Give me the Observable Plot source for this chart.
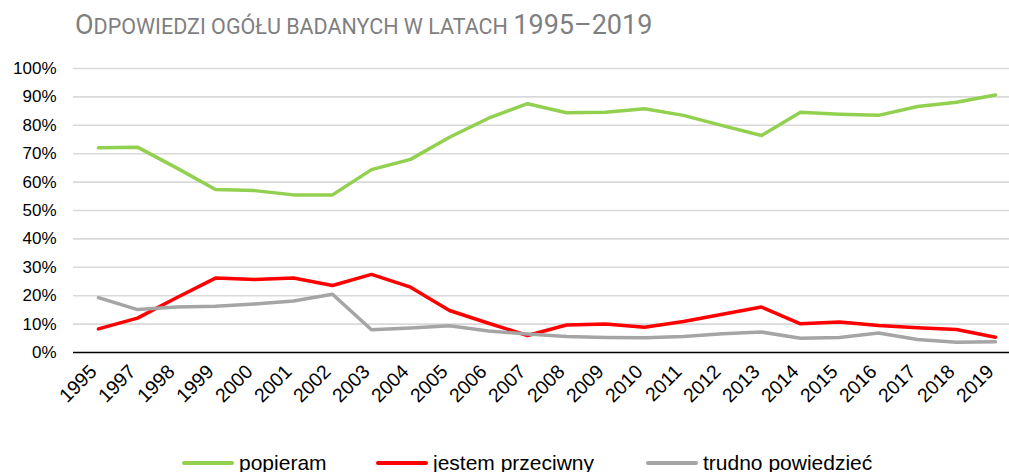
<!DOCTYPE html>
<html>
<head>
<meta charset="utf-8">
<script src="https://cdn.jsdelivr.net/npm/d3@7"></script>
<script src="https://cdn.jsdelivr.net/npm/@observablehq/plot@0.6"></script>
<style>
  html, body { margin: 0; padding: 0; background: #fff; width: 1009px; height: 472px; overflow: hidden; }
  #title { height: 50px; position: relative; font-family: Roboto, "Noto Sans", sans-serif; color: #7f7f7f; }
  #title .t { position: absolute; left: 75px; top: 12px; white-space: nowrap; line-height: 1; }
  .big { font-size: 27px; }
  .small { font-size: 21.5px; }
  #legend { height: 50px; position: relative; font-family: "Liberation Sans", Arial, sans-serif; font-size: 21px; color: #000; }
  #legend .item { position: absolute; top: 0; display: flex; align-items: center; height: 80px; }
  #legend .sw { width: 52px; height: 4px; border-radius: 2px; margin-right: 5px; }
</style>
</head>
<body>
<div id="title"><div class="t"><span class="big">O</span><span class="small">DPOWIEDZI OGÓŁU BADANYCH W LATACH </span><span class="big">1995–2019</span></div></div>
<div id="chart"></div>
<div id="legend"></div>
<script>
const years = ["1995","1997","1998","1999","2000","2001","2002","2003","2004","2005","2006","2007","2008","2009","2010","2011","2012","2013","2014","2015","2016","2017","2018","2019"];
const seriesNames = ["popieram", "jestem przeciwny", "trudno powiedzieć"];
const seriesColors = ["#92d050", "#ff0000", "#a5a5a5"];
const popieram = [72.1, 72.3, 65.0, 57.4, 57.0, 55.5, 55.5, 64.4, 68.0, 75.8, 82.5, 87.6, 84.4, 84.6, 85.8, 83.5, 79.9, 76.4, 84.6, 83.9, 83.5, 86.6, 88.1, 90.7];
const przeciwny = [8.3, 12.1, 19.3, 26.2, 25.7, 26.2, 23.6, 27.5, 23.0, 14.8, 10.3, 6.0, 9.7, 10.0, 8.9, 10.9, 13.5, 16.0, 10.1, 10.7, 9.5, 8.7, 8.1, 5.4];
const trudno = [19.3, 15.1, 16.0, 16.3, 17.1, 18.1, 20.5, 8.0, 8.6, 9.4, 7.6, 6.5, 5.6, 5.3, 5.2, 5.6, 6.6, 7.2, 5.0, 5.3, 6.9, 4.6, 3.6, 3.8];
const yTicks = [0, 10, 20, 30, 40, 50, 60, 70, 80, 90, 100];

const seriesValues = [popieram, przeciwny, trudno];
const data = [];
seriesNames.forEach((name, i) => {
  years.forEach((year, j) => data.push({series: name, year, value: seriesValues[i][j]}));
});

const chart = Plot.plot({
  width: 1009,
  height: 372,
  marginLeft: 73,
  marginRight: 0,
  marginTop: 18,
  marginBottom: 70,
  style: {fontFamily: "'Liberation Sans', Arial, sans-serif", fontSize: "17px", color: "#000", background: "#fff"},
  x: {type: "point", domain: years, range: [92.7, 1001], padding: 0},
  y: {domain: [0, 100]},
  color: {domain: seriesNames, range: seriesColors},
  marks: [
    Plot.ruleY(yTicks.filter(d => d > 0), {stroke: "#d9d9d9", strokeWidth: 1.6}),
    Plot.ruleY([0], {stroke: "#000", strokeWidth: 1.5}),
    Plot.axisY({ticks: yTicks, tickFormat: d => d + "%", tickSize: 0, tickPadding: 17, label: null, fontSize: 17}),
    Plot.axisX({tickRotate: -45, tickSize: 0, tickPadding: 9, label: null, fontSize: 19.5, dx: -5, dy: 7}),
    Plot.line(data, {x: "year", y: "value", stroke: "series", z: "series", strokeWidth: 3.5, strokeLinejoin: "round", strokeLinecap: "round"})
  ]
});
document.getElementById("chart").appendChild(chart);

const legend = document.getElementById("legend");
const lefts = [182, 376, 646];
seriesNames.forEach((name, i) => {
  const item = document.createElement("div");
  item.className = "item";
  item.style.left = lefts[i] + "px";
  item.style.top = "1px";
  const sw = document.createElement("div");
  sw.className = "sw";
  sw.style.background = seriesColors[i];
  const label = document.createElement("span");
  label.textContent = name;
  item.appendChild(sw);
  item.appendChild(label);
  legend.appendChild(item);
});
</script>
</body>
</html>
